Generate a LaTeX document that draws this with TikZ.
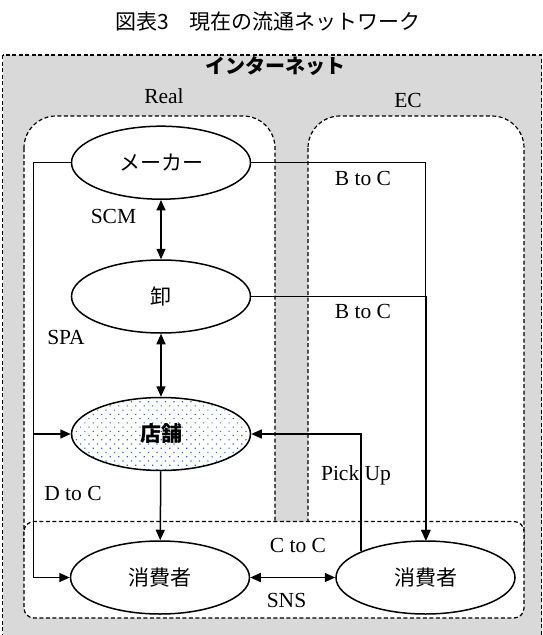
\documentclass[tikz,border=0pt]{standalone}
\usepackage{fontspec}
\setmainfont{Liberation Serif}
\newfontfamily\cjk{Noto Sans CJK JP}
\usetikzlibrary{arrows.meta,shapes.geometric,patterns.meta}
\definecolor{bggray}{RGB}{217,217,217}
\definecolor{dotblue}{RGB}{50,100,205}
\begin{document}
\begin{tikzpicture}[x=1pt,y=-1pt,
  ellbase/.style={draw, ellipse, line width=1.5pt, minimum width=179pt, minimum height=73pt, inner sep=0pt, font=\cjk\fontsize{21}{21}\selectfont},
  ell/.style={ellbase, fill=white},
  conn/.style={line width=1.5pt, line join=miter},
  tip/.style={-{Triangle[length=10.5pt,width=9pt]}},
  dtip/.style={{Triangle[length=10.5pt,width=9pt]}-{Triangle[length=10.5pt,width=9pt]}},
  zone/.style={dash pattern=on 4pt off 2.5pt, line width=1.2pt},
  lab/.style={font=\fontsize{21.5}{21.5}\selectfont, anchor=base, inner sep=0pt}]
\useasboundingbox (0,0) rectangle (543,635);
% zones
\draw[zone, fill=bggray] (2.5,55) rectangle (541.5,670);
\draw[zone, fill=white, rounded corners=32pt] (24,116) rectangle (275,580);
\draw[zone, fill=white, rounded corners=32pt] (308,116) rectangle (524,580);
\draw[zone, fill=white, rounded corners=10pt] (24,521.5) rectangle (524,618);
% titles
\node[font=\cjk\fontsize{21}{21}\selectfont] (title) at (268,22) {図表3　現在の流通ネットワーク};
\node[font=\cjk\bfseries\fontsize{20}{20}\selectfont] (inet) at (275,66) {インターネット};
\node[lab] (real) at (164,103) {Real};
\node[lab] (ec) at (408,107) {EC};
% nodes
\node[ell] (mk) at (161,162.7) {メーカー};
\node[ell] (wh) at (161,296.5) {卸};
\node[ellbase, pattern={Dots[angle=45,distance=6pt,radius=0.85pt]}, pattern color=dotblue] (st) at (161,434) {};
\node[font=\cjk\bfseries\fontsize{21}{21}\selectfont] (sttext) at (st.center) {店舗};
\node[ell] (c1) at (160,577.5) {消費者};
\node[ell] (c2) at (425.5,577.5) {消費者};
% connectors
\coordinate (lx) at (33.5,0);
\draw[conn,dtip] (mk) -- (wh);
\draw[conn,dtip] (wh) -- (st);
\draw[conn,tip] (st) -- (c1);
\draw[conn,tip] (mk.west) -- (lx |- mk.west) -- (lx |- c1.west) -- (c1.west);
\draw[conn,tip] (lx |- st.west) -- (st.west);
\draw[conn,tip] (mk.east) -| (c2.north);
\draw[conn,tip] (wh.east) -| ([xshift=0.7pt]c2.north);
\draw[conn,tip] (c2.158.4) |- (st.east);
\draw[conn,dtip] (c1) -- (c2);
% labels
\node[lab] (l1) at (363,185) {B to C};
\node[lab] (l2) at (363,318) {B to C};
\node[lab] (l3) at (113.5,223) {SCM};
\node[lab] (l4) at (66,344) {SPA};
\node[lab] (l5) at (73,500) {D to C};
\node[lab] (l6) at (356,480) {Pick Up};
\node[lab] (l7) at (298,552) {C to C};
\node[lab] (l8) at (286.5,607) {SNS};
\end{tikzpicture}
\end{document}
